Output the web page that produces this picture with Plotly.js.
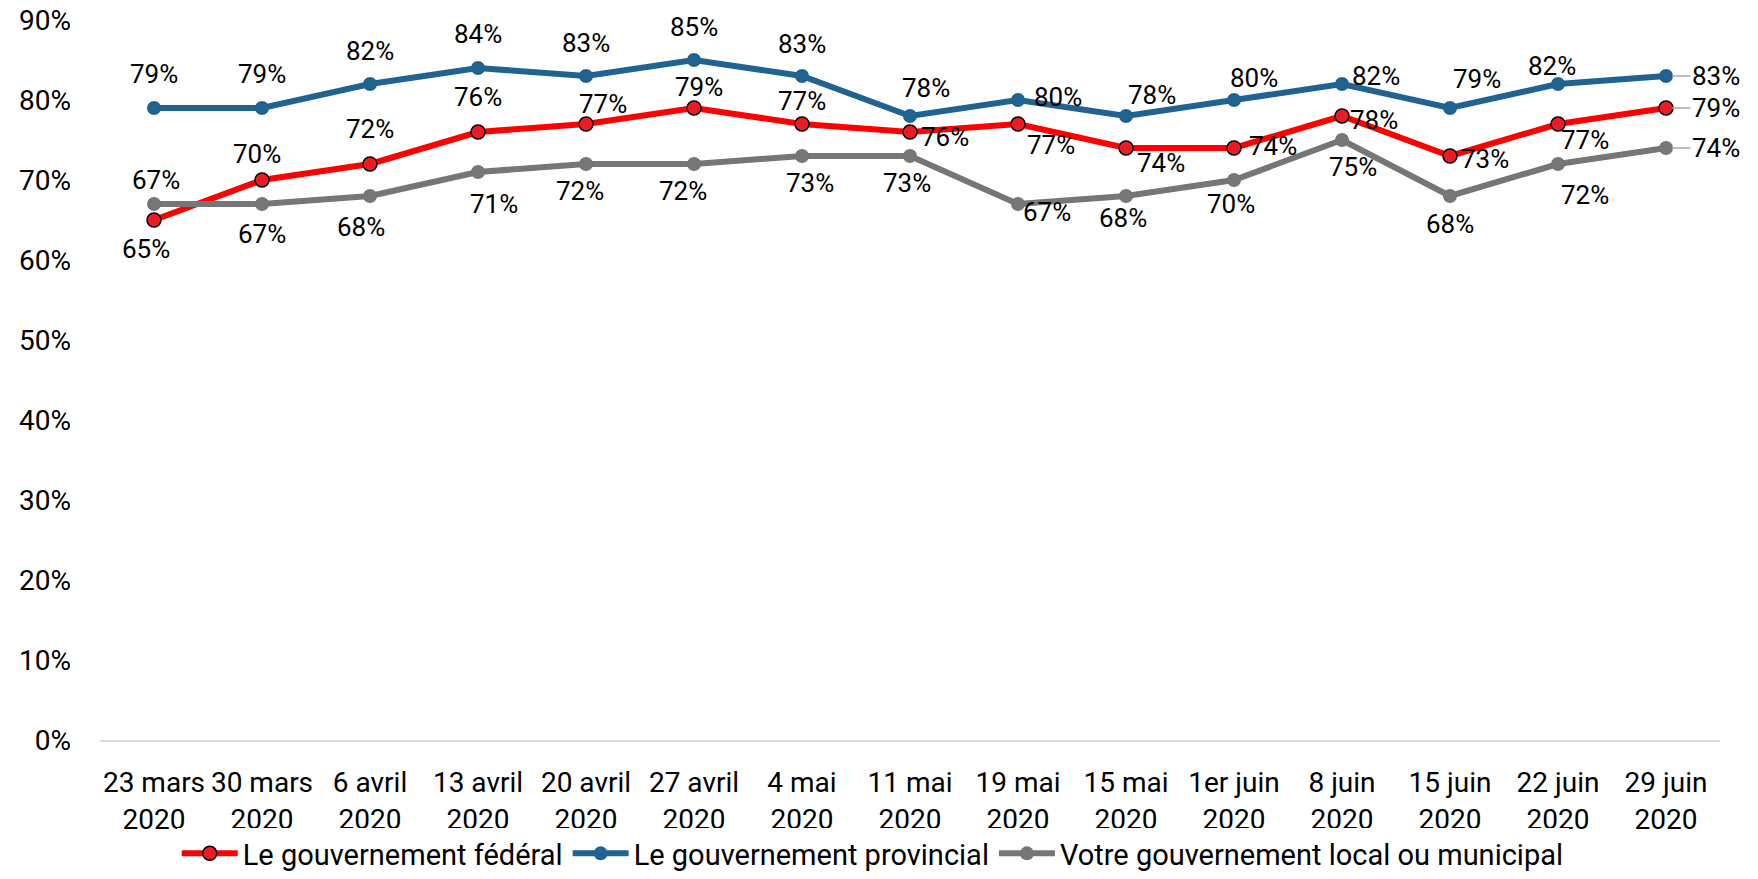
<!DOCTYPE html>
<html>
<head>
<meta charset="utf-8">
<script src="https://cdn.plot.ly/plotly-3.0.1.min.js"></script>
<style>
  html, body { margin: 0; padding: 0; background: #fff; }
  #chart { width: 1758px; height: 879px; }
</style>
</head>
<body>
<div id="chart"></div>
<script>
// --- data ---
const dates = [
    '23 mars<br>2020', '30 mars<br>2020', '6 avril<br>2020', '13 avril<br>2020', '20 avril<br>2020',
    '27 avril<br>2020', '4 mai<br>2020', '11 mai<br>2020', '19 mai<br>2020', '15 mai<br>2020',
    '1er juin<br>2020', '8 juin<br>2020', '15 juin<br>2020', '22 juin<br>2020', '29 juin<br>2020'
];
const federal    = [0.65, 0.70, 0.72, 0.76, 0.77, 0.79, 0.77, 0.76, 0.77, 0.74, 0.74, 0.78, 0.73, 0.77, 0.79];
const provincial = [0.79, 0.79, 0.82, 0.84, 0.83, 0.85, 0.83, 0.78, 0.80, 0.78, 0.80, 0.82, 0.79, 0.82, 0.83];
const local      = [0.67, 0.67, 0.68, 0.71, 0.72, 0.72, 0.73, 0.73, 0.67, 0.68, 0.70, 0.75, 0.68, 0.72, 0.74];
const seriesNames = ['Le gouvernement fédéral', 'Le gouvernement provincial', 'Votre gouvernement local ou municipal'];
const yTicks = [0, 0.1, 0.2, 0.3, 0.4, 0.5, 0.6, 0.7, 0.8, 0.9];

// --- label offsets in px [dx, dy], dy down (style only) ---
const fedOff  = [[-8,29],[-5,-26],[0,-35],[0,-35],[17,-20],[5,-21],[0,-23],[35,5],[33,21],[35,15],[39,-2],[32,4],[35,3],[27,16],[50,0]];
const provOff = [[0,-34],[0,-34],[0,-33],[0,-34],[0,-33],[0,-33],[0,-32],[16,-28],[40,-3],[26,-21],[20,-22],[34,-8],[27,-29],[-6,-18],[50,0]];
const locOff  = [[2,-24],[0,30],[-9,31],[16,32],[-6,27],[-11,27],[8,27],[-3,27],[29,8],[-3,22],[-3,24],[11,27],[0,28],[27,31],[50,0]];

const FONT = 'Roboto, "Liberation Sans", sans-serif';

function makeTrace(name, values, color, markerColor, markerLine) {
    return {
        x: dates, y: values, name: name, type: 'scatter', mode: 'lines+markers',
        line: { color: color, width: 6 },
        marker: { color: markerColor, size: 14, line: { color: markerLine || markerColor, width: markerLine ? 1.5 : 0 } },
        cliponaxis: false, hoverinfo: 'skip'
    };
}

function makeLabels(values, offsets) {
    const last = values.length - 1;
    return values.map((v, i) => {
        const base = {
            x: dates[i], y: v, xref: 'x', yref: 'y',
            text: Math.round(v * 100) + '%',
            font: { family: FONT, size: 26, color: '#000' }
        };
        if (i === last) {
            return Object.assign(base, {
                showarrow: true, ax: offsets[i][0], ay: offsets[i][1],
                arrowhead: 0, arrowwidth: 1.5, arrowcolor: '#A6A6A6', standoff: 6
            });
        }
        return Object.assign(base, { showarrow: false, xshift: offsets[i][0], yshift: -offsets[i][1] });
    });
}

const data = [
    makeTrace(seriesNames[0], federal, '#FF0000', '#ED1C24', '#000000'),
    makeTrace(seriesNames[1], provincial, '#206391', '#206391', null),
    makeTrace(seriesNames[2], local, '#767676', '#767676', null)
];

const annotations = []
    .concat(makeLabels(federal, fedOff))
    .concat(makeLabels(provincial, provOff))
    .concat(makeLabels(local, locOff));

const layout = {
    width: 1758, height: 879,
    margin: { l: 100, r: 38, t: 20, b: 139, pad: 0, autoexpand: false },
    paper_bgcolor: '#fff', plot_bgcolor: '#fff',
    font: { family: FONT, size: 28, color: '#000' },
    xaxis: {
        type: 'category', range: [-0.5, 14.5], automargin: false,
        showgrid: false, zeroline: false,
        showline: true, linecolor: '#D9D9D9', linewidth: 1.5,
        ticks: '', ticklabelstandoff: 17,
        tickfont: { family: FONT, size: 28, color: '#000' }
    },
    yaxis: {
        range: [0, 0.9], tickvals: yTicks, tickformat: '.0%', automargin: false,
        showgrid: false, zeroline: false, showline: false,
        ticks: '', ticklabelstandoff: 28,
        tickfont: { family: FONT, size: 28, color: '#000' }
    },
    showlegend: true,
    legend: {
        orientation: 'h', x: 0.477, xanchor: 'center', y: 0.0, yanchor: 'bottom',
        yref: 'container',
        font: { family: FONT, size: 29, color: '#000' },
        itemwidth: 56, tracegroupgap: 0
    },
    annotations: annotations
};

Plotly.newPlot('chart', data, layout, { displayModeBar: false, staticPlot: true });
</script>
</body>
</html>
